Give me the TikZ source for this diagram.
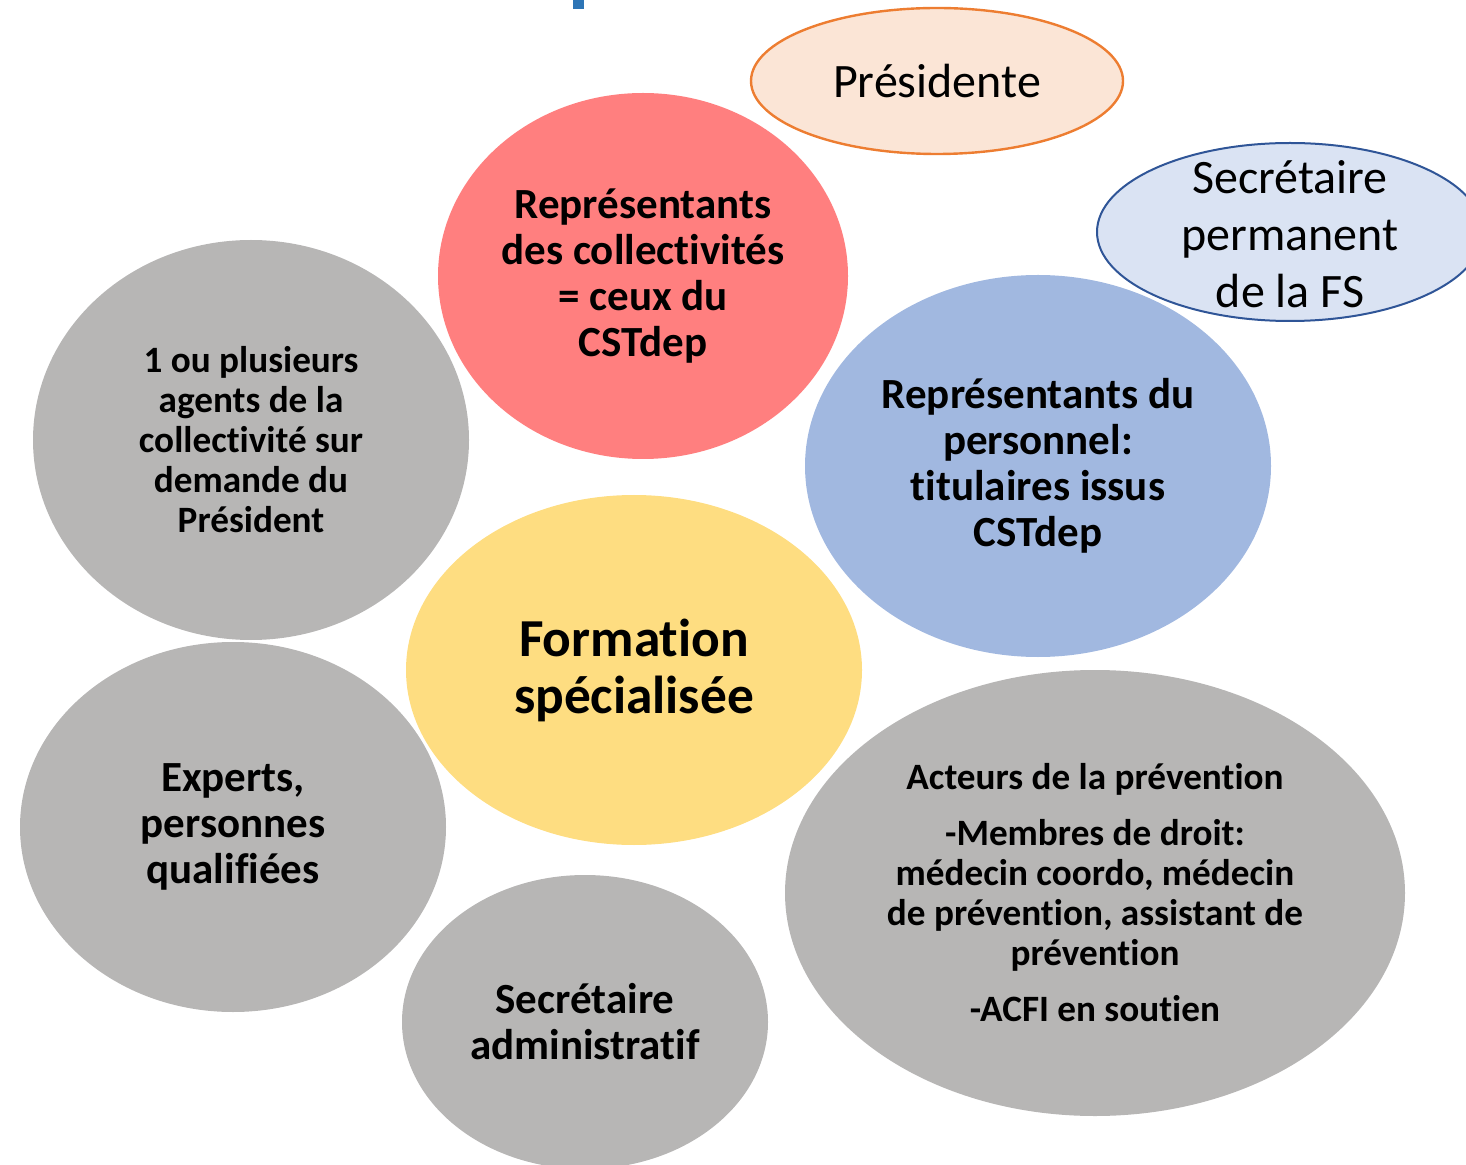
\documentclass[tikz,border=0pt]{standalone}
\usepackage{fontspec}
\setmainfont{Carlito}[Ligatures=NoCommon]
\usetikzlibrary{shapes.geometric}

\definecolor{presfond}{HTML}{FBE5D6}
\definecolor{prestrait}{HTML}{ED7D31}
\definecolor{secfond}{HTML}{DAE3F3}
\definecolor{sectrait}{HTML}{2F5597}
\definecolor{rouge}{HTML}{FF7F7F}
\definecolor{bleu}{HTML}{A1B8E0}
\definecolor{gris}{HTML}{B7B6B5}
\definecolor{jaune}{HTML}{FEDD81}
\definecolor{titre}{HTML}{2E75B6}

\tikzset{
  bulle/.style={ellipse, inner sep=0pt},
  texte/.style={inner sep=0pt, align=center, text=black},
  moyen/.style={font=\bfseries\fontsize{21.5}{23}\selectfont},
  petit/.style={font=\bfseries\fontsize{18.6}{20}\selectfont},
  grand/.style={font=\fontsize{24}{28.5}\selectfont},
}

\begin{document}
\begin{tikzpicture}[x=0.5pt, y=-0.5pt]
        \useasboundingbox (0,0) rectangle (1466,1165);
        \fill[titre] (573,0) rectangle (584,9);
        % bulles du haut
        \node[bulle, fill=presfond, draw=prestrait, line width=1.2pt,
              minimum width=186pt, minimum height=73pt] (presidente) at (937,81) {};
        \node[texte, grand] at (presidente) {Présidente};
        \node[bulle, fill=secfond, draw=sectrait, line width=1pt,
              minimum width=193pt, minimum height=89pt] (secfs) at (1290,232) {};
        \node[texte, grand] at ([yshift=-1pt]secfs) {Secrétaire\\permanent\\de la FS};
        \node[bulle, fill=rouge, minimum width=205pt, minimum height=183pt] (collectivites) at (643,276) {};
        \node[texte, moyen] at (collectivites) {Représentants\\des collectivités\\= ceux du\\CSTdep};
        \node[bulle, fill=bleu, minimum width=233pt, minimum height=191pt] (personnel) at (1038,466) {};
        \node[texte, moyen] at (personnel) {Représentants du\\personnel:\\titulaires issus\\CSTdep};
        \node[bulle, fill=gris, minimum width=218pt, minimum height=200pt] (agents) at (251,440) {};
        \node[texte, petit] at (agents) {1 ou plusieurs\\agents de la\\collectivité sur\\demande du\\Président};
        % bulle centrale
        \node[bulle, fill=jaune, minimum width=228pt, minimum height=175pt] (formation) at (634,670) {};
        \node[texte, font=\bfseries\fontsize{26.7}{28.5}\selectfont] at (formation) {Formation\\spécialisée};
        % bulles du bas
        \node[bulle, fill=gris, minimum width=213pt, minimum height=185pt] (experts) at (233,827) {};
        \node[texte, moyen] at (experts) {Experts,\\personnes\\qualifiées};
        \node[bulle, fill=gris, minimum width=183pt, minimum height=147pt] (secadmin) at (585,1022) {};
        \node[texte, moyen] at (secadmin) {Secrétaire\\administratif};
        \node[bulle, fill=gris, minimum width=310pt, minimum height=223pt] (acteurs) at (1095,893) {};
        \node[texte, petit] at (acteurs) {Acteurs de la prévention\\[8pt]
              -Membres de droit:\\médecin coordo, médecin\\de prévention, assistant de\\prévention\\[8pt]
              -ACFI en soutien};
    \end{tikzpicture}
\end{document}
